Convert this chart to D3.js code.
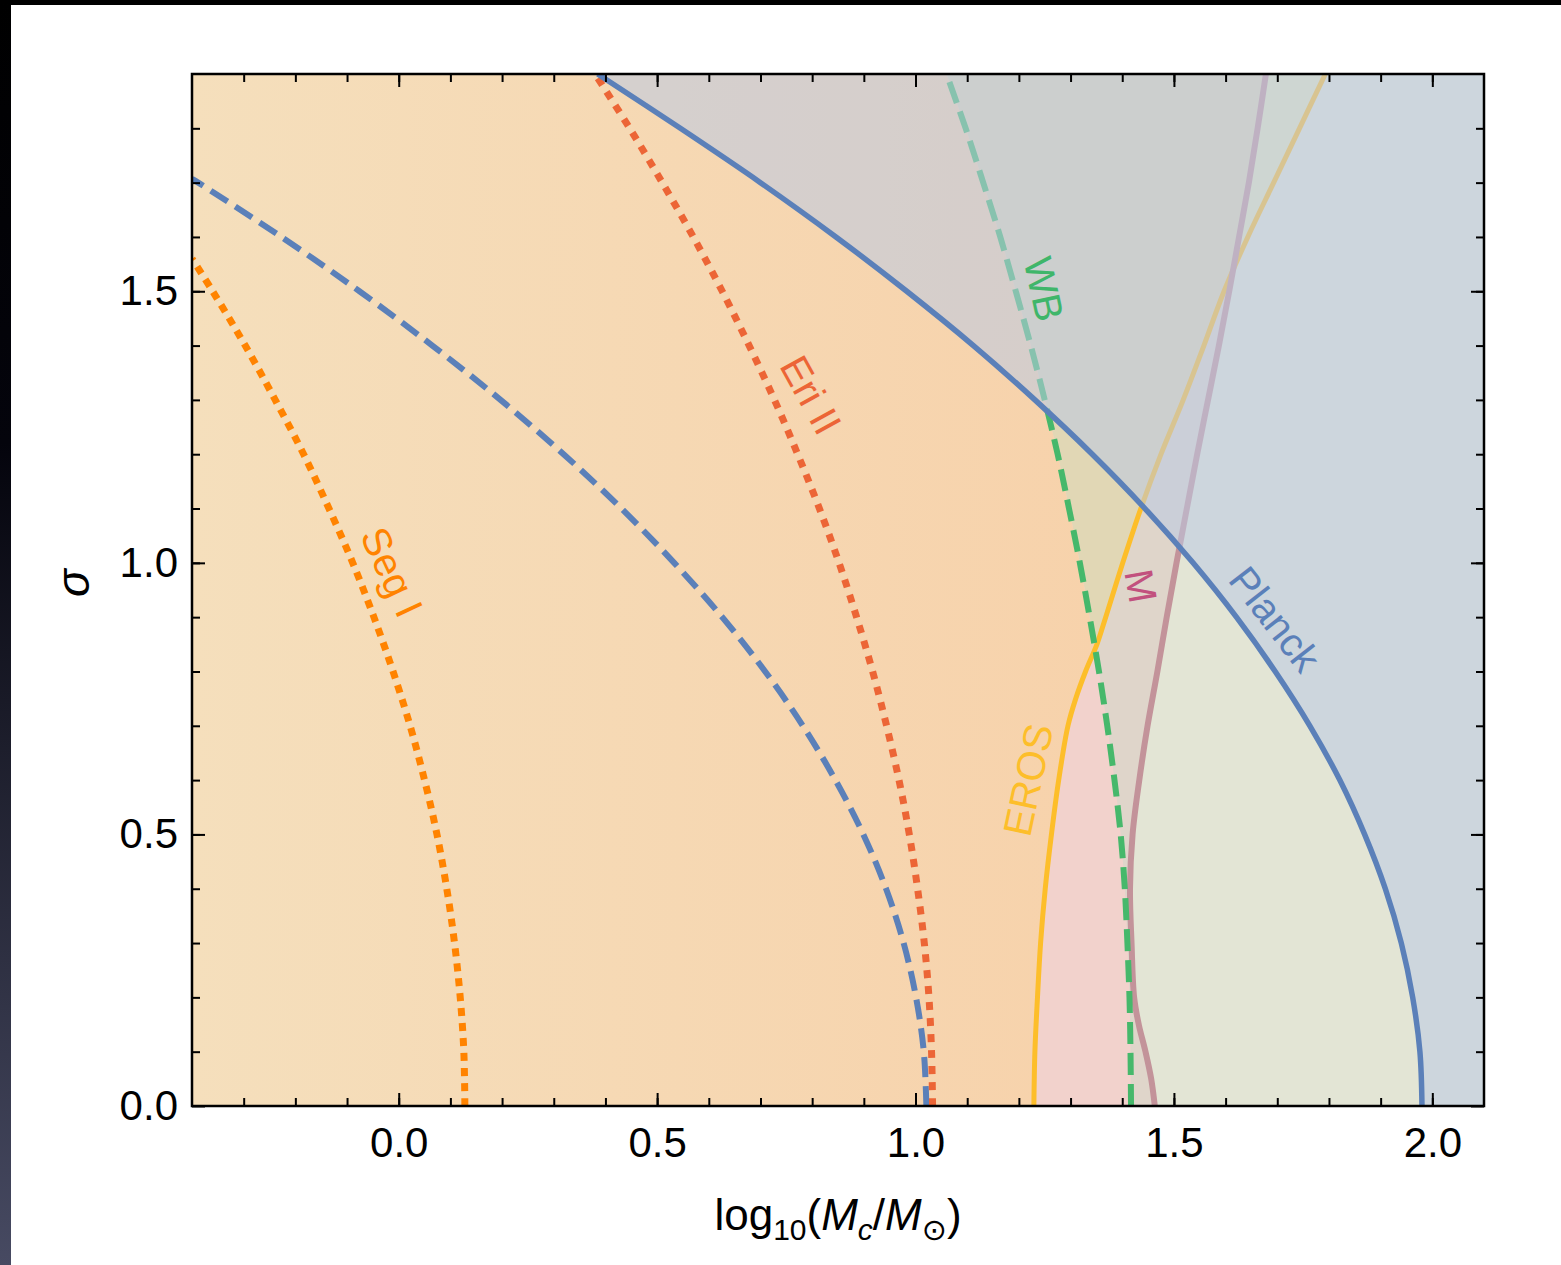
<!DOCTYPE html>
<html>
<head>
<meta charset="utf-8">
<script src="https://cdn.jsdelivr.net/npm/d3@7"></script>
<style>
	body { margin: 0; background: #fff; }
	svg { display: block; font-family: 'Liberation Sans', Arial, Helvetica, sans-serif; }
</style>
</head>
<body>
<div id="chart"></div>
<script>
// axis ranges and ticks
const xDomain = [-0.4, 2.1]
const yDomain = [0, 1.9]
const xMajor = [0, 0.5, 1.0, 1.5, 2.0]
const yMajor = [0, 0.5, 1.0, 1.5]

// curves as [log10(Mc/Msun), sigma]
const segI = [[0.128,0],[0.126,0.1],[0.119,0.2],[0.108,0.3],[0.093,0.4],[0.074,0.5],[0.05,0.6],[0.022,0.7],[-0.011,0.8],[-0.048,0.9],[-0.089,1.0],[-0.135,1.1],[-0.184,1.2],[-0.239,1.3],[-0.297,1.4],[-0.36,1.5],[-0.4,1.56]]
const blueDash = [[1.021,0],[1.016,0.1],[1.001,0.2],[0.977,0.3],[0.943,0.4],[0.899,0.5],[0.845,0.6],[0.782,0.7],[0.709,0.8],[0.626,0.9],[0.533,1.0],[0.431,1.1],[0.319,1.2],[0.197,1.3],[0.065,1.4],[-0.076,1.5],[-0.227,1.6],[-0.388,1.7],[-0.4,1.707]]
const eriII = [[1.033,0],[1.031,0.1],[1.026,0.2],[1.017,0.3],[1.004,0.4],[0.988,0.5],[0.968,0.6],[0.944,0.7],[0.917,0.8],[0.886,0.9],[0.852,1.0],[0.814,1.1],[0.772,1.2],[0.727,1.3],[0.678,1.4],[0.626,1.5],[0.57,1.6],[0.51,1.7],[0.447,1.8],[0.38,1.9]]
const wb = [[1.417,0],[1.416,0.1],[1.414,0.2],[1.41,0.3],[1.405,0.4],[1.397,0.5],[1.385,0.6],[1.371,0.7],[1.355,0.8],[1.337,0.9],[1.318,1.0],[1.297,1.1],[1.275,1.2],[1.25,1.3],[1.223,1.4],[1.194,1.5],[1.164,1.6],[1.131,1.7],[1.097,1.8],[1.06,1.9]]
const eros = [[1.229,0],[1.231,0.1],[1.236,0.2],[1.242,0.3],[1.251,0.4],[1.263,0.5],[1.277,0.6],[1.295,0.7],[1.31,0.75],[1.329,0.8],[1.351,0.85],[1.368,0.9],[1.401,1.0],[1.436,1.1],[1.475,1.2],[1.518,1.3],[1.558,1.4],[1.597,1.5],[1.643,1.6],[1.693,1.7],[1.743,1.8],[1.793,1.9]]
const mCurve = [[1.463,0],[1.456,0.05],[1.445,0.1],[1.432,0.15],[1.423,0.2],[1.418,0.3],[1.415,0.4],[1.42,0.5],[1.433,0.6],[1.449,0.7],[1.468,0.8],[1.486,0.9],[1.505,1.0],[1.525,1.1],[1.545,1.2],[1.566,1.3],[1.587,1.4],[1.607,1.5],[1.626,1.6],[1.645,1.7],[1.662,1.8],[1.678,1.9]]
const planck = [[1.98,0],[1.976,0.1],[1.962,0.2],[1.94,0.3],[1.909,0.4],[1.869,0.5],[1.821,0.6],[1.763,0.7],[1.696,0.8],[1.621,0.9],[1.537,1.0],[1.444,1.1],[1.342,1.2],[1.231,1.3],[1.112,1.4],[0.983,1.5],[0.846,1.6],[0.7,1.7],[0.545,1.8],[0.385,1.9]]

// curve labels
const labels = [
	{ text: 'Seg I', x: 392, y: 572, rot: 65, color: '#FF8300' },
	{ text: 'Eri II', x: 811, y: 395, rot: 61, color: '#EC6536' },
	{ text: 'WB', x: 1044, y: 289, rot: 78, color: '#3FB66A' },
	{ text: 'M', x: 1141, y: 586, rot: 80, color: '#C2517E' },
	{ text: 'Planck', x: 1275, y: 619, rot: 52, color: '#5B80B9' },
	{ text: 'EROS', x: 1028, y: 780, rot: -78, color: '#FDBE2A' },
]

const W = 1561, H = 1265
const x = d3.scaleLinear().domain(xDomain).range([192, 1484])
const y = d3.scaleLinear().domain(yDomain).range([1106, 74])

const svg = d3.select('#chart').append('svg').attr('width', W).attr('height', H)
const defs = svg.append('defs')

// dark screen border top / left
const edge = defs.append('linearGradient').attr('id', 'edge').attr('x1', 0).attr('y1', 0).attr('x2', 0).attr('y2', 1)
edge.append('stop').attr('offset', 0).attr('stop-color', '#000')
edge.append('stop').attr('offset', 0.35).attr('stop-color', '#04040c')
edge.append('stop').attr('offset', 1).attr('stop-color', '#474a62')
svg.append('rect').attr('width', W).attr('height', 5).attr('fill', '#000')
svg.append('rect').attr('width', 11).attr('height', H).attr('fill', 'url(#edge)')

const orange = defs.append('linearGradient').attr('id', 'orange').attr('gradientUnits', 'userSpaceOnUse')
	.attr('x1', x(-0.4)).attr('x2', x(1.35)).attr('y1', 0).attr('y2', 0)
orange.append('stop').attr('offset', 0).attr('stop-color', '#F5DFBC')
orange.append('stop').attr('offset', 1).attr('stop-color', '#F7D2AB')

// smooth curve through the read points
const line = d3.line().x(d => x(d[0])).y(d => y(d[1])).curve(d3.curveCatmullRom.alpha(0.5))
const byY = pts => pts.slice().sort((a, b) => a[1] - b[1])
const leftOf = pts => `${line(byY(pts))}L${x(-0.6)},${y(1.9)}L${x(-0.6)},${y(0)}Z`
const rightOf = pts => `${line(byY(pts))}L${x(2.3)},${y(1.9)}L${x(2.3)},${y(0)}Z`

defs.append('clipPath').attr('id', 'plot').append('rect')
	.attr('x', 192).attr('y', 74).attr('width', 1484 - 192).attr('height', 1106 - 74)
defs.append('clipPath').attr('id', 'leftM').append('path').attr('d', leftOf(mCurve))
defs.append('clipPath').attr('id', 'leftWB').append('path').attr('d', leftOf(wb))

const g = svg.append('g').attr('clip-path', 'url(#plot)')

// filled regions
g.append('rect').attr('x', 192).attr('y', 74).attr('width', 1292).attr('height', 1032).attr('fill', '#E3E5D5')
g.append('path').attr('d', leftOf(mCurve)).attr('fill', '#DFD5CA')
g.append('path').attr('d', leftOf(eros)).attr('fill', '#E5E5BE')
g.append('path').attr('d', leftOf(eros)).attr('fill', '#E1D7B5').attr('clip-path', 'url(#leftM)')
g.append('path').attr('d', leftOf(wb)).attr('fill', '#F2D2CC')
g.append('path').attr('d', leftOf(eros)).attr('fill', 'url(#orange)').attr('clip-path', 'url(#leftWB)')

const draw = (pts, color, width, dash) => g.append('path')
	.attr('d', line(byY(pts)))
	.attr('fill', 'none')
	.attr('stroke', color)
	.attr('stroke-width', width)
	.attr('stroke-dasharray', dash || null)

draw(eros, '#FDBE2A', 5)
draw(mCurve, '#C3939A', 6)
draw(wb, '#46B86B', 6, '22 9')

// planck excluded region sits over the others
g.append('path').attr('d', rightOf(planck)).attr('fill', '#BCC9E2').attr('fill-opacity', 0.56)

draw(segI, '#FF8300', 7, '8 7')
draw(blueDash, '#5B80B9', 6, '20 9')
draw(eriII, '#EC6536', 7, '8 8')
draw(planck, '#5B80B9', 5.5)

// axes, ticks inward on all sides
const minorX = d3.range(-3, 21).map(i => i / 10)
const minorY = d3.range(1, 19).map(i => i / 10)
const fmt = d3.format('.1f')

const styleAxis = sel => {
	sel.select('.domain').remove()
	sel.selectAll('line').attr('stroke', '#000').attr('stroke-width', 2)
	sel.attr('font-size', 42).attr('font-family', "'Liberation Sans', Arial, sans-serif")
	sel.selectAll('text').attr('fill', '#000')
}

svg.append('g').attr('transform', 'translate(0,1106)').call(d3.axisBottom(x).tickValues(minorX).tickSize(-8).tickFormat('')).call(styleAxis)
svg.append('g').attr('transform', 'translate(0,1106)').call(d3.axisBottom(x).tickValues(xMajor).tickSize(-13).tickPadding(21).tickFormat(fmt)).call(styleAxis)
svg.append('g').attr('transform', 'translate(0,74)').call(d3.axisTop(x).tickValues(minorX).tickSize(-8).tickFormat('')).call(styleAxis)
svg.append('g').attr('transform', 'translate(0,74)').call(d3.axisTop(x).tickValues(xMajor).tickSize(-13).tickFormat('')).call(styleAxis)

svg.append('g').attr('transform', 'translate(192,0)').call(d3.axisLeft(y).tickValues(minorY).tickSize(-8).tickFormat('')).call(styleAxis)
svg.append('g').attr('transform', 'translate(192,0)').call(d3.axisLeft(y).tickValues(yMajor).tickSize(-13).tickPadding(14).tickFormat(fmt)).call(styleAxis)
svg.append('g').attr('transform', 'translate(1484,0)').call(d3.axisRight(y).tickValues(minorY).tickSize(-8).tickFormat('')).call(styleAxis)
svg.append('g').attr('transform', 'translate(1484,0)').call(d3.axisRight(y).tickValues(yMajor).tickSize(-13).tickFormat('')).call(styleAxis)

svg.append('rect').attr('x', 192).attr('y', 74).attr('width', 1292).attr('height', 1032)
	.attr('fill', 'none').attr('stroke', '#000').attr('stroke-width', 2.5)

// curve labels
svg.selectAll('.clabel')
	.data(labels)
	.enter()
	.append('text')
	.attr('class', 'clabel')
	.attr('transform', d => `translate(${d.x},${d.y}) rotate(${d.rot})`)
	.attr('text-anchor', 'middle')
	.attr('dominant-baseline', 'central')
	.attr('font-size', 40)
	.attr('fill', d => d.color)
	.text(d => d.text)

// axis titles
const xt = svg.append('text').attr('x', 838).attr('y', 1230).attr('text-anchor', 'middle').attr('font-size', 44)
xt.append('tspan').text('log')
xt.append('tspan').attr('font-size', 30).attr('dy', 10).text('10')
xt.append('tspan').attr('dy', -10).text('(')
xt.append('tspan').attr('font-style', 'italic').text('M')
xt.append('tspan').attr('font-style', 'italic').attr('font-size', 30).attr('dy', 10).text('c')
xt.append('tspan').attr('dy', -10).text('/')
xt.append('tspan').attr('font-style', 'italic').text('M')
xt.append('tspan').attr('font-size', 30).attr('dy', 10).attr('font-family', 'DejaVu Sans').text('\u2299')
xt.append('tspan').attr('dy', -10).text(')')

svg.append('text')
	.attr('transform', 'translate(89,583) rotate(-90)')
	.attr('text-anchor', 'middle')
	.attr('font-size', 46)
	.attr('font-style', 'italic')
	.text('σ')
</script>
</body>
</html>
